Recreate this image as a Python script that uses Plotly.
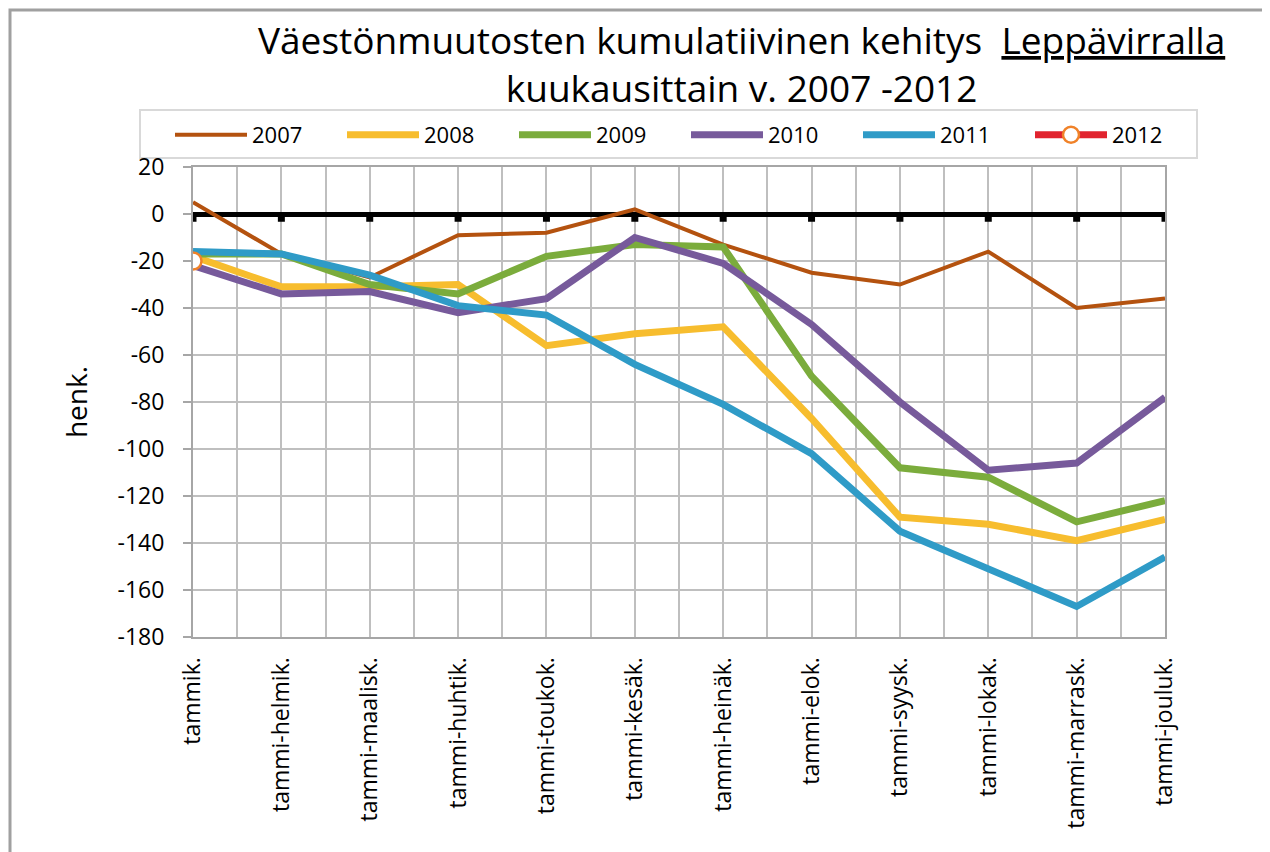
import plotly.graph_objects as go

categories = ["tammik.", "tammi-helmik.", "tammi-maalisk.", "tammi-huhtik.", "tammi-toukok.",
              "tammi-kesäk.", "tammi-heinäk.", "tammi-elok.", "tammi-syysk.", "tammi-lokak.",
              "tammi-marrask.", "tammi-jouluk."]

v2007 = [5, -17, -27, -9, -8, 2, -13, -25, -30, -16, -40, -36]
v2008 = [-18, -31, -31, -30, -56, -51, -48, -87, -129, -132, -139, -130]
v2009 = [-17, -17, -30, -34, -18, -13, -14, -69, -108, -112, -131, -122]
v2010 = [-22, -34, -33, -42, -36, -10, -21, -47, -80, -109, -106, -78]
v2011 = [-16, -17, -26, -39, -43, -64, -81, -102, -135, -151, -167, -146]
v2012 = [-20]

yticks = [20, 0, -20, -40, -60, -80, -100, -120, -140, -160, -180]
ytick_text = [str(v) for v in yticks]

series = [
    ("2007", v2007, "#B4520F", 4),
    ("2008", v2008, "#F7BD2E", 7),
    ("2009", v2009, "#7BAC3C", 7),
    ("2010", v2010, "#775A9B", 7),
    ("2011", v2011, "#2F9BC7", 7),
]

x_idx = list(range(len(categories)))

fig = go.Figure()

# tick marks on the zero line
fig.add_trace(go.Scatter(
    x=x_idx, y=[0] * len(x_idx), mode="markers",
    marker=dict(size=1, color="rgba(0,0,0,0)"),
    error_y=dict(type="data", symmetric=False, array=[0] * len(x_idx),
                 arrayminus=[3.3] * len(x_idx), thickness=7, width=0, color="black"),
    showlegend=False, hoverinfo="skip"))

for name, vals, color, w in series:
    fig.add_trace(go.Scatter(x=x_idx[:len(vals)], y=vals, name=name, mode="lines",
                             line=dict(color=color, width=w)))

fig.add_trace(go.Scatter(x=x_idx[:len(v2012)], y=v2012, name="2012", mode="lines+markers",
                         line=dict(color="#E1232E", width=7),
                         marker=dict(size=17, color="white", symbol="circle",
                                     line=dict(color="#F08229", width=2.5))))

OFF = 8  # page body margin
W, H = 1270, 852
L = 193 - OFF
T = 167 - OFF
R = W - 1165 + OFF
B = H - 637 + OFF
pw = W - L - R
ph = H - T - B

def px_x(px):
    return (px - OFF - L) / pw

def px_y(py):
    return (H - B - (py - OFF)) / ph

fig.update_layout(
    width=W, height=H,
    margin=dict(l=L, r=R, t=T, b=B, autoexpand=False),
    paper_bgcolor="white", plot_bgcolor="white",
    font=dict(family="Open Sans", size=23, color="black"),
    showlegend=True,
    legend=dict(orientation="h", x=px_x(170), xanchor="left", y=px_y(114), yanchor="top",
                borderwidth=0, bgcolor="rgba(0,0,0,0)",
                font=dict(family="Open Sans", size=22), entrywidth=85,
                entrywidthmode="pixels", tracegroupgap=0, itemwidth=72),
    xaxis=dict(range=[0, 11], tickmode="array", tickvals=x_idx, ticktext=categories,
               tickangle=-90, showgrid=True, gridcolor="#BFBFBF", gridwidth=2,
               minor=dict(dtick=0.5, tick0=0, showgrid=True, gridcolor="#BFBFBF", gridwidth=2),
               showline=True, linecolor="#A6A6A6", linewidth=2, mirror=True,
               ticks="", zeroline=False, ticklabelstandoff=9,
               tickfont=dict(family="Open Sans", size=23)),
    yaxis=dict(range=[-180, 20], tickmode="array", tickvals=yticks, ticktext=ytick_text,
               showgrid=True, gridcolor="#BFBFBF", gridwidth=2,
               showline=True, linecolor="#A6A6A6", linewidth=2, mirror=True,
               ticks="outside", ticklen=8, tickwidth=2, tickcolor="#A6A6A6",
               zeroline=True, zerolinecolor="black", zerolinewidth=5,
               ticklabelstandoff=14,
               tickfont=dict(family="Open Sans", size=23),
               title=dict(text="henk.", font=dict(family="Open Sans", size=28), standoff=22)),
    annotations=[dict(
        text="Väestönmuutosten kumulatiivinen kehitys  <span style='text-decoration:underline'>Leppävirralla</span><br>kuukausittain v. 2007 -2012",
        xref="paper", yref="paper", x=px_x(741), y=px_y(12), xanchor="center", yanchor="top",
        showarrow=False, font=dict(family="Open Sans", size=37, color="black"), align="center")],
    shapes=[
        dict(type="rect", xref="paper", yref="paper",
             x0=px_x(10), x1=px_x(1290), y0=px_y(875), y1=px_y(10),
             line=dict(color="#A0A0A0", width=3), fillcolor="rgba(0,0,0,0)", layer="below"),
        dict(type="rect", xref="paper", yref="paper",
             x0=px_x(140), x1=px_x(1197), y0=px_y(158), y1=px_y(110),
             line=dict(color="#D9D9D9", width=2), fillcolor="white", layer="below"),
    ],
)

fig.write_html("out.html")
